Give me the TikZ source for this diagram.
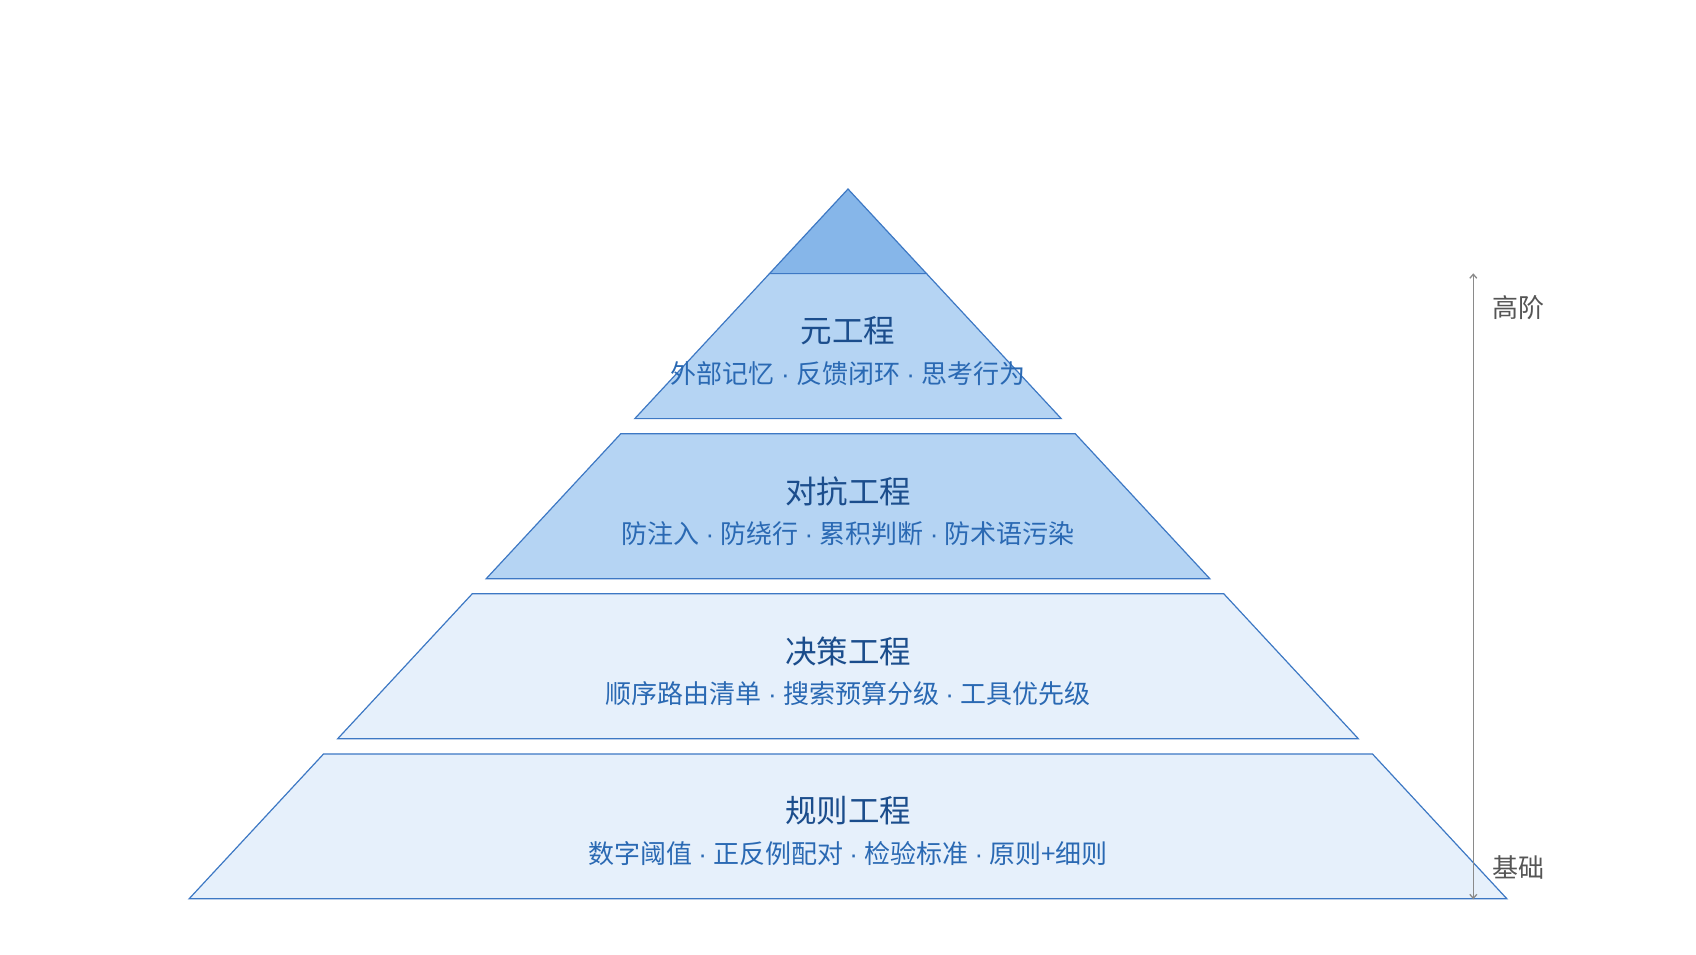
\documentclass[tikz,border=0pt]{standalone}
\usepackage{fontspec}
\setmainfont{Noto Sans CJK SC}
\newfontfamily\latinfont{Liberation Sans}
\newcommand\dotsep{\hspace{0.24em}{\latinfont ·}\hspace{0.24em}}
\usetikzlibrary{arrows.meta}
\definecolor{edgeblue}{HTML}{3D78C4}
\definecolor{tipfill}{HTML}{86B6E9}
\definecolor{midfill}{HTML}{B5D4F3}
\definecolor{lowfill}{HTML}{E6F0FB}
\definecolor{titlecol}{HTML}{1B4D8C}
\definecolor{subcol}{HTML}{2A69B3}
\definecolor{axisgray}{HTML}{8A8A8A}
\definecolor{labelgray}{HTML}{555555}
\tikzset{
  band/.style={draw=edgeblue, line width=1.2pt, line join=miter},
  titletext/.style={text=titlecol, font=\fontsize{31.5}{36}\selectfont, inner sep=0pt},
  subtext/.style={text=subcol, font=\fontsize{26}{30}\selectfont, inner sep=0pt},
  sidetext/.style={text=labelgray, font=\fontsize{26}{30}\selectfont, inner sep=0pt, anchor=west},
  axis/.style={draw=axisgray, line width=1.3pt, {Straight Barb[length=4pt,width=7pt]}-{Straight Barb[length=4pt,width=7pt]}}
}
\begin{document}
\begin{tikzpicture}[x=1pt,y=-1pt]
\useasboundingbox (0,0) rectangle (1696,954);
% tip
\path[band, fill=tipfill] (848,189) -- (926.5,273.6) -- (769.5,273.6) -- cycle;
% layer 1
\path[band, fill=midfill] (769.5,273.6) -- (926.5,273.6) -- (1061.2,418.6) -- (634.8,418.6) -- cycle;
% layer 2
\path[band, fill=midfill] (620.8,433.7) -- (1075.2,433.7) -- (1209.8,578.7) -- (486.2,578.7) -- cycle;
% layer 3
\path[band, fill=lowfill] (472.2,593.8) -- (1223.8,593.8) -- (1358.3,738.7) -- (337.7,738.7) -- cycle;
% layer 4
\path[band, fill=lowfill] (323.6,753.9) -- (1372.4,753.9) -- (1506.9,898.8) -- (189.1,898.8) -- cycle;

\node[titletext] (t1) at (848,331) {元工程};
\node[subtext] (s1) at (848,374) {外部记忆\dotsep 反馈闭环\dotsep 思考行为};
\node[titletext] (t2) at (848,491) {对抗工程};
\node[subtext] (s2) at (848,534) {防注入\dotsep 防绕行\dotsep 累积判断\dotsep 防术语污染};
\node[titletext] (t3) at (848,651) {决策工程};
\node[subtext] (s3) at (848,694) {顺序路由清单\dotsep 搜索预算分级\dotsep 工具优先级};
\node[titletext] (t4) at (848,811) {规则工程};
\node[subtext] (s4) at (848,854) {数字阈值\dotsep 正反例配对\dotsep 检验标准\dotsep 原则+细则};

\coordinate (axtop) at (1473.3,273.3);
\coordinate (axbot) at (1473.3,899.3);
\draw[axis] (axbot) -- (axtop);
\node[sidetext] (hi) at (1492,308) {高阶};
\node[sidetext] (lo) at (1492,867.5) {基础};
\end{tikzpicture}
\end{document}
